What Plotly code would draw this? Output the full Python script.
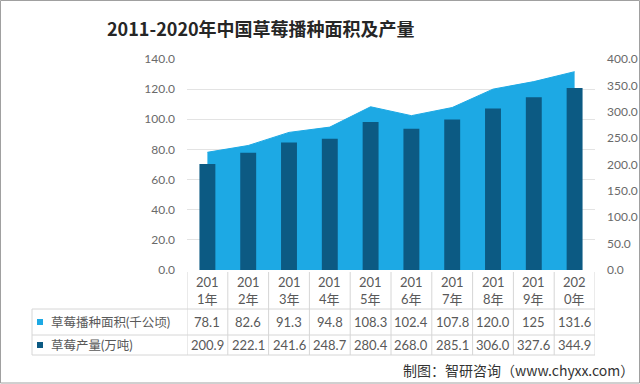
import plotly.graph_objects as go

years = ["2011", "2012", "2013", "2014", "2015", "2016", "2017", "2018", "2019", "2020"]
area_vals = [78.1, 82.6, 91.3, 94.8, 108.3, 102.4, 107.8, 120.0, 125, 131.6]
area_text = ["78.1", "82.6", "91.3", "94.8", "108.3", "102.4", "107.8", "120.0", "125", "131.6"]
prod_vals = [200.9, 222.1, 241.6, 248.7, 280.4, 268.0, 285.1, 306.0, 327.6, 344.9]
prod_text = ["200.9", "222.1", "241.6", "248.7", "280.4", "268.0", "285.1", "306.0", "327.6", "344.9"]
series_names = ["草莓播种面积(千公顷)", "草莓产量(万吨)"]
title = "2011-2020年中国草莓播种面积及产量"
source = "制图：智研咨询（www.chyxx.com）"

W, H = 640, 384
AREA_C = "#1DA9E4"
BAR_C = "#0C5A83"
GRID_C = "#E3E3E3"
TXT_C = "#595959"
FONT = "Lato, 'Noto Sans CJK SC', sans-serif"

def px(x):
    return x / W

def py(y):
    return (H - y) / H

xs = list(range(len(years)))

fig = go.Figure()
fig.add_trace(go.Scatter(
    x=xs, y=area_vals, mode="lines", fill="tozeroy",
    line=dict(color=AREA_C, width=1), fillcolor=AREA_C,
    name=series_names[0], yaxis="y", hoverinfo="skip"))
fig.add_trace(go.Bar(
    x=xs, y=prod_vals, marker=dict(color=BAR_C, line=dict(width=0)),
    width=0.39, name=series_names[1], yaxis="y2"))

x_dom = [px(187), px(595)]
y_dom = [py(270), py(59)]

fig.update_layout(
    template="none",
    width=W, height=H,
    margin=dict(l=0, r=0, t=0, b=0, pad=0),
    paper_bgcolor="white", plot_bgcolor="white",
    showlegend=False,
    font=dict(family=FONT, color=TXT_C, size=12),
    xaxis=dict(domain=x_dom, range=[-0.5, len(years) - 0.5], automargin=False,
               showticklabels=False, showgrid=False, zeroline=False,
               showline=False, ticks=""),
    yaxis=dict(domain=y_dom, range=[0, 140], dtick=20, tickformat=".1f",
               automargin=False,
               showgrid=True, gridcolor=GRID_C, gridwidth=1, zeroline=False,
               showline=False, ticks="", ticklabelstandoff=11,
               tickfont=dict(size=12, color="#6A6A6A")),
    yaxis2=dict(overlaying="y", side="right", range=[0, 400], dtick=50,
                automargin=False,
                tickformat=".1f", showgrid=False, zeroline=False,
                showline=False, ticks="", ticklabelstandoff=11,
                tickfont=dict(size=12, color="#6A6A6A")),
)

shapes = []
LINE_C = "#D6D6D6"
# vertical table lines
for i in range(len(years) + 1):
    shapes.append(dict(type="line", xref="x", yref="paper",
                       x0=i - 0.5, x1=i - 0.5, y0=py(272), y1=py(355),
                       line=dict(color=LINE_C, width=1)))
# horizontal table lines
for yy in [309, 335, 355]:
    shapes.append(dict(type="line", xref="paper", yref="paper",
                       x0=px(32), x1=px(595), y0=py(yy), y1=py(yy),
                       line=dict(color=LINE_C, width=1)))
shapes.append(dict(type="line", xref="paper", yref="paper",
                   x0=px(32), x1=px(32), y0=py(309), y1=py(355),
                   line=dict(color=LINE_C, width=1)))
# legend squares
for yc, c in [(322, AREA_C), (345, BAR_C)]:
    shapes.append(dict(type="rect", xref="paper", yref="paper",
                       x0=px(37), x1=px(43), y0=py(yc + 3), y1=py(yc - 3),
                       fillcolor=c, line=dict(width=0)))
# outer frame
shapes.append(dict(type="rect", xref="paper", yref="paper",
                   x0=px(0.5), x1=px(639.5), y0=py(383), y1=py(0.5),
                   line=dict(color="#A0A0A0", width=1)))

def ann(x, y, text, size, color=TXT_C, xref="paper", xanchor="center", family=None):
    f = dict(size=size, color=color)
    if family:
        f["family"] = family
    return dict(x=x, y=y, xref=xref, yref="paper", text=text, showarrow=False,
                xanchor=xanchor, yanchor="middle", font=f, align="center")

annotations = []
for i, y in enumerate(years):
    annotations.append(ann(i, py(290), y[:3] + "<br>" + y[3:] + "年", 13, xref="x"))
    annotations.append(ann(i, py(322), area_text[i], 13, xref="x"))
    annotations.append(ann(i, py(345), prod_text[i], 13, xref="x"))
for yc, name in [(322, series_names[0]), (345, series_names[1])]:
    annotations.append(ann(px(49), py(yc), name, 12.5, xanchor="left"))
annotations.append(ann(px(261), py(28), "<b>" + title + "</b>", 18, color="#262626",
                       family="'Noto Sans CJK SC', sans-serif"))
annotations.append(ann(px(636), py(370), source, 14, color="#333333", xanchor="right",
                       family="'Noto Sans CJK SC', sans-serif"))

fig.update_layout(shapes=shapes, annotations=annotations)
fig.write_html("out.html", config={"displayModeBar": False},
               post_script="document.body.style.margin='0';")
